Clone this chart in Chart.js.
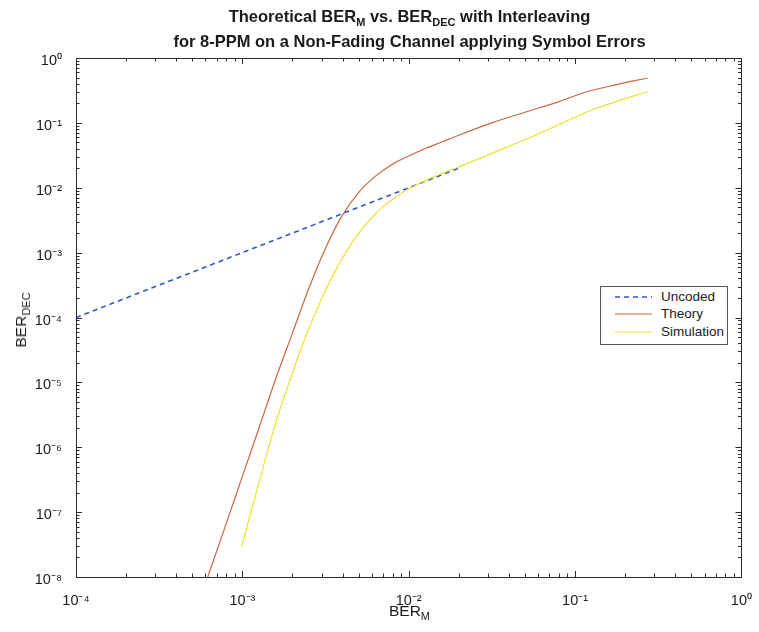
<!DOCTYPE html>
<html>
<head>
<meta charset="utf-8">
<script src="https://cdn.jsdelivr.net/npm/chart.js@4.4.1/dist/chart.umd.min.js"></script>
<style>
  html, body { margin: 0; padding: 0; background: #ffffff; }
  #wrap { position: relative; width: 759px; height: 632px; font-family: "Liberation Sans", Arial, sans-serif; color: #1a1a1a; }
  #c { position: absolute; left: 0; top: 0; }
  .title { position: absolute; left: 76px; width: 667px; text-align: center; font-weight: bold; font-size: 16.5px; line-height: 25px; top: 4px; }
  .title sub { font-size: 11px; vertical-align: -4px; line-height: 0; }
  .xlabel { position: absolute; left: 76px; width: 667px; text-align: center; font-size: 15.5px; top: 602px; }
  .xlabel sub, .ylabel sub { font-size: 11px; vertical-align: -4px; line-height: 0; }
  .ylabel { position: absolute; left: 21px; top: 320px; transform: translate(-50%, -50%) rotate(-90deg); font-size: 15.5px; white-space: nowrap; }
  .legend { position: absolute; left: 600px; top: 286px; width: 128px; height: 59px; border: 1px solid #555; background: #fff; box-sizing: border-box; font-size: 13.5px; }
  .legend .row { position: absolute; left: 0; height: 16px; width: 100%; }
  .legend svg { position: absolute; left: 0; top: 0; }
  .legend span { position: absolute; left: 60px; top: 0; line-height: 16px; }
</style>
</head>
<body>
<div id="wrap">
  <canvas id="c" width="759" height="632"></canvas>
  <div class="title">Theoretical BER<sub>M</sub> vs. BER<sub>DEC</sub> with Interleaving<br>for 8-PPM on a Non-Fading Channel applying Symbol Errors</div>
  <div class="xlabel">BER<sub>M</sub></div>
  <div class="ylabel">BER<sub>DEC</sub></div>
  <div class="legend">
    <div class="row" style="top:2px"><svg width="56" height="16"><line x1="14" y1="8" x2="51" y2="8" stroke="#2f55c8" stroke-width="1.6" stroke-dasharray="5,4"/></svg><span>Uncoded</span></div>
    <div class="row" style="top:19px"><svg width="56" height="16"><line x1="14" y1="8" x2="51" y2="8" stroke="#c9663e" stroke-width="1.2"/></svg><span>Theory</span></div>
    <div class="row" style="top:37px"><svg width="56" height="16"><line x1="14" y1="8" x2="51" y2="8" stroke="#f0e030" stroke-width="1.2"/></svg><span>Simulation</span></div>
  </div>
</div>
<script>
// ---- data ----
const seriesNames = ['Uncoded', 'Theory', 'Simulation'];

const uncodedX = [1e-4, 1e-3, 1e-2, 0.02];
const uncodedY = [1e-4, 1e-3, 1e-2, 0.02];

const theoryX = [6.19e-4, 7.94e-4, 1.0e-3, 1.26e-3, 1.58e-3, 2.0e-3, 2.51e-3, 3.16e-3, 3.98e-3, 5.01e-3, 6.31e-3, 7.94e-3, 0.01, 0.0126, 0.0158, 0.02, 0.0316, 0.0501, 0.0794, 0.116, 0.178, 0.273];
const theoryY = [1e-8, 6.31e-8, 3.55e-7, 2.0e-6, 1.10e-5, 5.75e-5, 2.82e-4, 1.17e-3, 3.72e-3, 8.51e-3, 0.0151, 0.0229, 0.0309, 0.0403, 0.0507, 0.0646, 0.1, 0.146, 0.211, 0.299, 0.389, 0.492];

const simX = [9.91e-4, 1.12e-3, 1.26e-3, 1.41e-3, 1.58e-3, 1.78e-3, 2.0e-3, 2.24e-3, 2.51e-3, 2.82e-3, 3.16e-3, 3.55e-3, 3.98e-3, 4.47e-3, 5.01e-3, 5.62e-3, 6.31e-3, 7.08e-3, 7.94e-3, 8.91e-3, 0.01, 0.0126, 0.0158, 0.02, 0.0316, 0.0528, 0.0794, 0.126, 0.178, 0.273];
const simY = [2.95e-8, 9.55e-8, 2.88e-7, 8.32e-7, 2.29e-6, 5.89e-6, 1.41e-5, 3.16e-5, 6.76e-5, 1.38e-4, 2.63e-4, 4.79e-4, 8.13e-4, 1.32e-3, 2.0e-3, 2.88e-3, 3.98e-3, 5.25e-3, 6.61e-3, 8.04e-3, 9.55e-3, 0.0129, 0.0166, 0.0209, 0.0339, 0.0585, 0.0933, 0.158, 0.214, 0.302];

const xTickValues = [1e-4, 1e-3, 1e-2, 1e-1, 1];
const xTickLabels = ['10\u207B\u2074', '10\u207B\u00B3', '10\u207B\u00B2', '10\u207B\u00B9', '10\u2070'];
const yTickValues = [1e-8, 1e-7, 1e-6, 1e-5, 1e-4, 1e-3, 1e-2, 1e-1, 1];
const yTickLabels = ['10\u207B\u2078', '10\u207B\u2077', '10\u207B\u2076', '10\u207B\u2075', '10\u207B\u2074', '10\u207B\u00B3', '10\u207B\u00B2', '10\u207B\u00B9', '10\u2070'];

const toPts = (xs, ys) => xs.map((x, i) => ({ x: x, y: ys[i] }));

// inward MATLAB-style tick marks and box
const boxTicks = {
  id: 'boxTicks',
  afterDraw(chart) {
    const ctx = chart.ctx, a = chart.chartArea;
    const xs = chart.scales.x, ys = chart.scales.y;
    ctx.save();
    ctx.strokeStyle = '#2a2a2a';
    ctx.lineWidth = 1;
    ctx.strokeRect(Math.round(a.left) + 0.5, Math.round(a.top) + 0.5, Math.round(a.right - a.left), Math.round(a.bottom - a.top));
    ctx.beginPath();
    for (let d = -4; d <= 0; d++) {
      for (let m = 1; m <= 9; m++) {
        const v = m * Math.pow(10, d);
        if (v < xs.min * 0.999 || v > xs.max * 1.001) continue;
        const p = Math.round(xs.getPixelForValue(v)) + 0.5;
        const L = m === 1 ? 6 : 3.5;
        ctx.moveTo(p, a.bottom); ctx.lineTo(p, a.bottom - L);
        ctx.moveTo(p, a.top); ctx.lineTo(p, a.top + L);
      }
    }
    for (let d = -8; d <= 0; d++) {
      for (let m = 1; m <= 9; m++) {
        const v = m * Math.pow(10, d);
        if (v < ys.min * 0.999 || v > ys.max * 1.001) continue;
        const p = Math.round(ys.getPixelForValue(v)) + 0.5;
        const L = m === 1 ? 6 : 3.5;
        ctx.moveTo(a.left, p); ctx.lineTo(a.left + L, p);
        ctx.moveTo(a.right, p); ctx.lineTo(a.right - L, p);
      }
    }
    ctx.stroke();
    ctx.restore();
  }
};

new Chart(document.getElementById('c'), {
  type: 'scatter',
  data: {
    datasets: [
      { label: seriesNames[0], data: toPts(uncodedX, uncodedY), showLine: true, borderColor: '#2f55c8', borderWidth: 1.6, borderDash: [5, 4], pointRadius: 0, order: 3 },
      { label: seriesNames[1], data: toPts(theoryX, theoryY), showLine: true, borderColor: '#c9663e', borderWidth: 1.2, pointRadius: 0, cubicInterpolationMode: 'monotone', order: 2 },
      { label: seriesNames[2], data: toPts(simX, simY), showLine: true, borderColor: '#f0e030', borderWidth: 1.2, pointRadius: 0, cubicInterpolationMode: 'monotone', order: 1 }
    ]
  },
  options: {
    responsive: false,
    animation: false,
    events: [],
    layout: { padding: { top: 58, right: 16, left: 0, bottom: 0 } },
    plugins: { legend: { display: false }, title: { display: false }, tooltip: { enabled: false } },
    scales: {
      x: {
        type: 'logarithmic', min: 1e-4, max: 1, position: 'bottom',
        grid: { display: false },
        border: { display: true, color: '#2a2a2a' },
        afterBuildTicks: s => { s.ticks = xTickValues.map(v => ({ value: v })); },
        afterFit: s => { s.height = 55; },
        ticks: { autoSkip: false, maxRotation: 0, padding: 7, color: '#1a1a1a', font: { family: 'Liberation Sans', size: 14.5 },
                 callback: (v, i) => xTickLabels[i] }
      },
      y: {
        type: 'logarithmic', min: 1e-8, max: 1, position: 'left',
        grid: { display: false },
        border: { display: true, color: '#2a2a2a' },
        afterBuildTicks: s => { s.ticks = yTickValues.map(v => ({ value: v })); },
        afterFit: s => { s.width = 76; },
        ticks: { autoSkip: false, padding: 6, labelOffset: 3, color: '#1a1a1a', font: { family: 'Liberation Sans', size: 14.5 },
                 callback: (v, i) => yTickLabels[i] }
      }
    }
  },
  plugins: [boxTicks]
});
</script>
</body>
</html>
